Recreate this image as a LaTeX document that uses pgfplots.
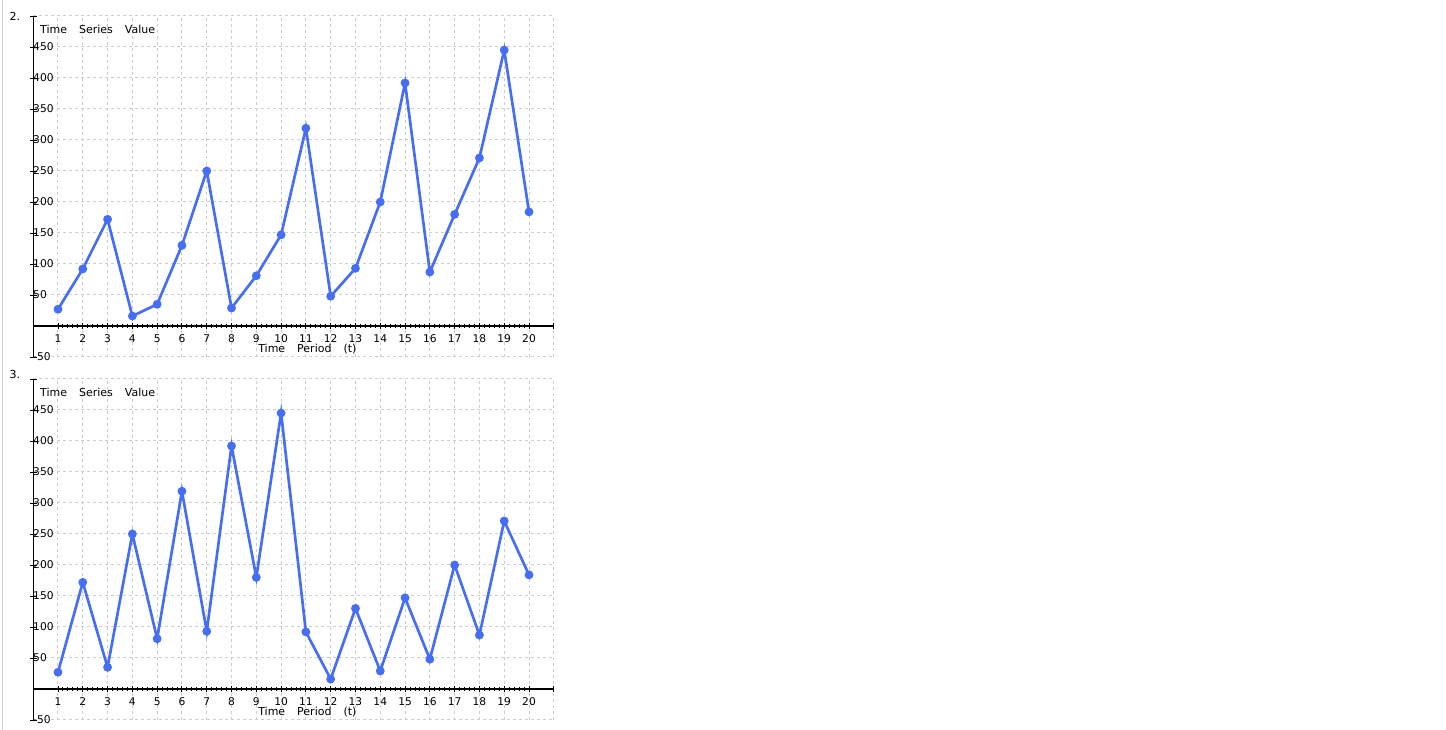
\documentclass[border=0pt]{standalone}
\usepackage{fontspec}
\setmainfont{DejaVu Sans}
\usepackage{pgfplots}
\usepackage{pgfplotstable}
\pgfplotsset{compat=1.18}
\definecolor{lineblue}{RGB}{70,110,245}
\definecolor{gridgray}{RGB}{205,205,205}

\pgfplotstableread{
t v
1 27
2 92
3 172
4 16
5 35
6 130
7 250
8 29
9 81
10 147
11 319
12 48
13 93
14 200
15 392
16 87
17 180
18 271
19 445
20 184
}\dataA

\pgfplotstableread{
t v
1 27
2 172
3 35
4 250
5 81
6 319
7 93
8 392
9 180
10 445
11 92
12 16
13 130
14 29
15 147
16 48
17 200
18 87
19 271
20 184
}\dataB

\pgfplotsset{tsstyle/.style={
  scale only axis, width=390.45pt, height=255.75pt,
  xmin=0, xmax=21, ymin=-50, ymax=500,
  axis lines=middle,
  axis line style={-, black, line width=0.9pt},
  xtick={1,...,20},
  ytick={-50,50,100,150,200,250,300,350,400,450},
  extra x ticks={21}, extra x tick labels={},
  extra y ticks={500}, extra y tick labels={},
  extra tick style={grid=major},
  grid=major,
  major grid style={gridgray, line width=0.75pt, dash pattern=on 2.25pt off 2.25pt},
  minor x tick num=4, minor y tick num=4,
  tick align=center,
  major tick length=5pt, minor tick length=3pt,
  tick style={black, line width=0.7pt},
  tick label style={font=\fontsize{8}{9.5}\selectfont, /pgf/number format/assume math mode=true},
  xticklabel style={anchor=north, yshift=-0.5pt},
  yticklabel style={anchor=west, xshift=-1pt},
  clip=false,
}}

\begin{document}
\begin{tikzpicture}
\useasboundingbox (0,0) rectangle (1084.5pt,547.5pt);
\draw[gridgray, line width=0.75pt] (2.2pt,0) -- (2.2pt,547.5pt);
\node[anchor=west, inner sep=0, font=\fontsize{8.25}{10}\selectfont] at (7pt,535.5pt) {2.};
\node[anchor=west, inner sep=0, font=\fontsize{8.25}{10}\selectfont] at (7pt,266.5pt) {3.};

\begin{axis}[tsstyle, at={(24.9pt,279.75pt)}, anchor=south west]
\addplot[lineblue, line width=2pt, mark=*, mark size=2.25pt, mark options={fill=lineblue, draw=lineblue}] table[x=t,y=v]{\dataA};
\node[anchor=west, inner sep=0, font=\fontsize{8.25}{10}\selectfont] at (axis cs:0,479) {\hspace{5pt}Time\hspace{9pt}Series\hspace{9pt}Value};
\node[anchor=west, inner sep=0, font=\fontsize{8.25}{10}\selectfont] at (axis cs:9.07,-37) {Time\hspace{9pt}Period\hspace{9pt}(t)};
\end{axis}

\begin{axis}[tsstyle, at={(24.9pt,7.5pt)}, anchor=south west]
\addplot[lineblue, line width=2pt, mark=*, mark size=2.25pt, mark options={fill=lineblue, draw=lineblue}] table[x=t,y=v]{\dataB};
\node[anchor=west, inner sep=0, font=\fontsize{8.25}{10}\selectfont] at (axis cs:0,479) {\hspace{5pt}Time\hspace{9pt}Series\hspace{9pt}Value};
\node[anchor=west, inner sep=0, font=\fontsize{8.25}{10}\selectfont] at (axis cs:9.07,-37) {Time\hspace{9pt}Period\hspace{9pt}(t)};
\end{axis}
\end{tikzpicture}
\end{document}
